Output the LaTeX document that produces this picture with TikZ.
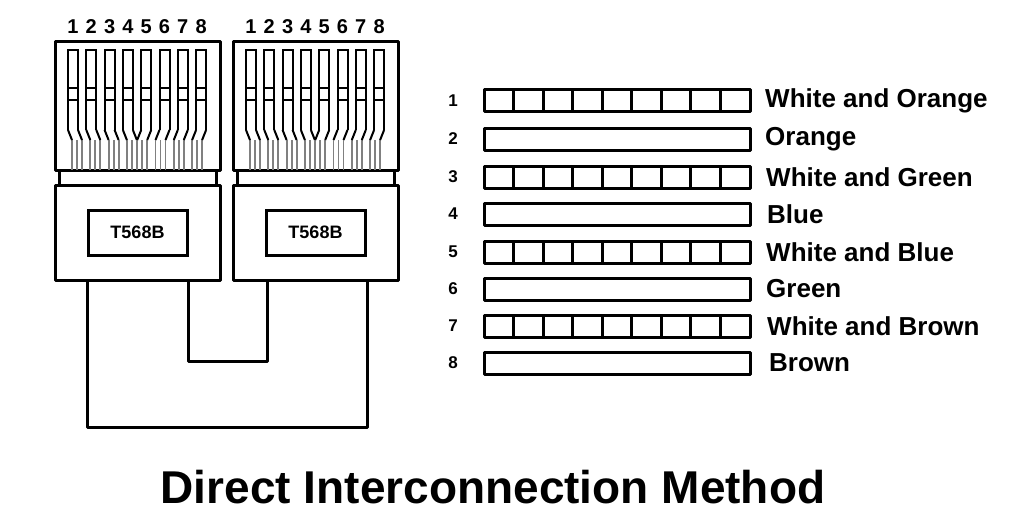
\documentclass[tikz,border=0pt]{standalone}
\usepackage{fontspec}
\setmainfont{Liberation Sans}
\begin{document}
\begin{tikzpicture}[x=1pt,y=-1pt,
  ln/.style={line width=3pt,line join=round},
  thin/.style={line width=2pt},
  gr/.style={line width=1.8pt,gray},
  lbl/.style={font=\bfseries\fontsize{26}{28}\selectfont,anchor=west,inner sep=0},
  num/.style={font=\bfseries\fontsize{17}{19}\selectfont,inner sep=0},
  pn/.style={font=\bfseries\fontsize{20}{22}\selectfont,inner sep=0}]
\useasboundingbox (0,0) rectangle (1024,524);
% connectors
\foreach \ox/\nm in {0/a,178/b}{
  \begin{scope}[xshift=\ox]
  \draw[ln] (55,42) rectangle (220,170);
  \draw[ln] (59,170) rectangle (216,185);
  \draw[ln] (55,185) rectangle (220,280);
  \node[draw,line width=3pt,minimum width=99pt,minimum height=45pt,inner sep=0,font=\bfseries\fontsize{18}{20}\selectfont] (lab\nm) at (137.5,232.5) {T568B};
  \foreach \i in {0,...,7}{
    \pgfmathsetmacro\xl{68+18.3*\i}
    \pgfmathsetmacro\xr{\xl+10}
    \pgfmathsetmacro\sh{\i<4 ? 4 : -4}
    \node[pn] (p\nm\i) at (\xl+5,27) {\the\numexpr\i+1\relax};
    \draw[gr] (\xl+\sh,140)--(\xl+\sh,170) (\xr+\sh,140)--(\xr+\sh,170) (\xl+5+\sh,140)--(\xl+5+\sh,170);
    \draw[thin] (\xl,130)--(\xl,50)--(\xr,50)--(\xr,130);
    \draw[thin] (\xl,130)--(\xl+\sh,140) (\xr,130)--(\xr+\sh,140);
    \draw[thin] (\xl,88)--(\xr,88) (\xl,100)--(\xr,100);
  }
  \end{scope}}
% cable
\draw[ln] (87,280)--(87,427)--(367,427)--(367,280);
\draw[ln] (188,280)--(188,361)--(267,361)--(267,280);
% wires
\foreach \n/\y/\t/\s/\lx in {1/101/White and Orange/1/765,2/139/Orange/0/765,3/177/White and Green/1/766,4/214/Blue/0/767,5/252/White and Blue/1/766,6/289/Green/0/766,7/326/White and Brown/1/767,8/363/Brown/0/769}{
  \node[num] (n\n) at (453,\y) {\n};
  \draw[ln] (484,\y-11) rectangle (750,\y+11);
  \ifnum\s=1
    \foreach \k in {1,...,8}{\draw[ln] (484+29.55*\k,\y-11)--(484+29.55*\k,\y+11);}
  \fi
  \node[lbl] (w\n) at (\lx,\y) {\t};
}
\node[font=\bfseries\fontsize{46}{50}\selectfont,inner sep=0] (title) at (493,487) {Direct Interconnection Method};
\end{tikzpicture}
\end{document}
